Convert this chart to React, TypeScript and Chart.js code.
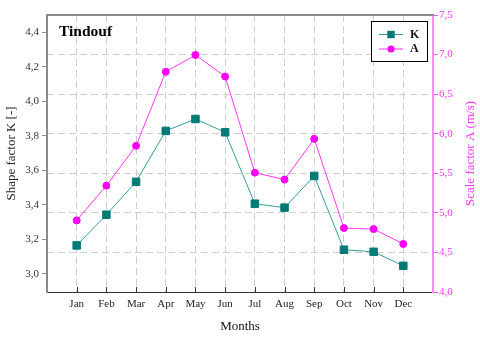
import React, { useEffect, useRef } from 'react';
import { Chart, registerables } from 'chart.js';

Chart.register(...registerables);

const months = ['Jan', 'Feb', 'Mar', 'Apr', 'May', 'Jun', 'Jul', 'Aug', 'Sep', 'Oct', 'Nov', 'Dec'];
const kValues = [3.164, 3.342, 3.533, 3.828, 3.897, 3.82, 3.406, 3.383, 3.567, 3.139, 3.127, 3.046];
const aValues = [4.905, 5.344, 5.847, 6.782, 6.995, 6.722, 5.508, 5.42, 5.935, 4.808, 4.795, 4.607];
const kTicks = [3.0, 3.2, 3.4, 3.6, 3.8, 4.0, 4.2, 4.4];
const aTicks = [4.0, 4.5, 5.0, 5.5, 6.0, 6.5, 7.0, 7.5];
const chartTitle = 'Tindouf';
const leftTitle = 'Shape factor K [-]';
const rightTitle = 'Scale factor A (m/s)';
const xTitle = 'Months';

const FONT = '"Liberation Serif", "Times New Roman", serif';
const TEAL_LINE = '#2f9e9a';
const TEAL_PT = '#007a75';
const MAGENTA = '#ff00ff';
const GRID = '#cdcdcd';

const fmt = (v: number) => v.toFixed(1).replace('.', ',');

const overlayPlugin = {
  id: 'overlay',
  afterDraw(chart: any) {
    const { ctx, chartArea } = chart;
    const { left, right, top, bottom } = chartArea;
    ctx.save();
    // top border
    ctx.strokeStyle = '#8a8a8a';
    ctx.lineWidth = 2;
    ctx.beginPath();
    ctx.moveTo(left - 1, top);
    ctx.lineTo(right + 1, top);
    ctx.stroke();

    // inward x tick marks
    const xs = chart.scales.x;
    ctx.strokeStyle = '#333';
    ctx.lineWidth = 1;
    xs.ticks.forEach((t: any) => {
      const px = Math.round(xs.getPixelForValue(t.value)) + 0.5;
      ctx.beginPath();
      ctx.moveTo(px, bottom);
      ctx.lineTo(px, bottom - 5);
      ctx.stroke();
    });

    // title
    ctx.fillStyle = '#000';
    ctx.font = `bold 15.5px ${FONT}`;
    ctx.textAlign = 'left';
    ctx.textBaseline = 'middle';
    ctx.fillText(chartTitle, left + 12, top + 17);

    // right axis title
    ctx.save();
    ctx.translate(471, (top + bottom) / 2);
    ctx.rotate(-Math.PI / 2);
    ctx.fillStyle = '#ff33ff';
    ctx.font = `13px ${FONT}`;
    ctx.textAlign = 'center';
    ctx.textBaseline = 'middle';
    ctx.fillText(rightTitle, 0, 0);
    ctx.restore();

    // legend
    const bx = 371.5, by = 21.5, bw = 56, bh = 40;
    ctx.fillStyle = '#fff';
    ctx.fillRect(bx, by, bw, bh);
    ctx.strokeStyle = '#000';
    ctx.lineWidth = 1;
    ctx.strokeRect(bx, by, bw, bh);
    chart.data.datasets.forEach((ds: any, i: number) => {
      const y = 34.5 + i * 14.5;
      ctx.strokeStyle = ds.borderColor;
      ctx.lineWidth = 1;
      ctx.beginPath();
      ctx.moveTo(379, y);
      ctx.lineTo(403, y);
      ctx.stroke();
      ctx.fillStyle = ds.pointBackgroundColor;
      ctx.beginPath();
      if (ds.pointStyle === 'rect') {
        ctx.rect(391 - 3.7, y - 3.7, 7.4, 7.4);
      } else {
        ctx.arc(391, y, ds.pointRadius, 0, Math.PI * 2);
      }
      ctx.fill();
      ctx.fillStyle = '#111';
      ctx.font = `bold 12px ${FONT}`;
      ctx.textAlign = 'left';
      ctx.textBaseline = 'middle';
      ctx.fillText(ds.label, 410, y);
    });
    ctx.restore();
  },
};

export default function App() {
  const ref = useRef<HTMLCanvasElement>(null);

  useEffect(() => {
    if (!ref.current) return;
    const chart = new Chart(ref.current, {
      type: 'line',
      data: {
        datasets: [
          {
            label: 'K',
            data: kValues.map((y, i) => ({ x: i + 1, y })),
            yAxisID: 'y',
            borderColor: TEAL_LINE,
            borderWidth: 1,
            pointStyle: 'rect',
            pointRadius: 5.3,
            pointBackgroundColor: TEAL_PT,
            pointBorderColor: TEAL_PT,
            pointBorderWidth: 1,
          } as any,
          {
            label: 'A',
            data: aValues.map((y, i) => ({ x: i + 1, y })),
            yAxisID: 'y2',
            borderColor: '#ff33ff',
            borderWidth: 1,
            pointStyle: 'circle',
            pointRadius: 3.5,
            pointBackgroundColor: MAGENTA,
            pointBorderColor: MAGENTA,
            pointBorderWidth: 1,
          } as any,
        ],
      },
      options: {
        responsive: false,
        animation: false,
        layout: { padding: { top: 15, left: 0, right: 0, bottom: 0 } },
        plugins: {
          legend: { display: false },
          title: { display: false },
          tooltip: { enabled: false },
        },
        scales: {
          x: {
            type: 'linear',
            position: 'bottom',
            min: 0,
            max: 13,
            afterBuildTicks: (s: any) => {
              s.ticks = months.map((_, i) => ({ value: i + 1 }));
            },
            afterFit: (s: any) => {
              s.height = 46;
            },
            ticks: {
              autoSkip: false,
              maxRotation: 0,
              padding: 1,
              color: '#222',
              font: { family: FONT, size: 11 },
              callback: (v: any) => months[Number(v) - 1] ?? '',
            },
            grid: {
              color: GRID,
              lineWidth: 1,
              drawTicks: true,
              tickLength: 5,
              tickColor: 'rgba(0,0,0,0)',
            },
            border: { display: true, color: '#333', width: 1, dash: [7, 4] },
            title: {
              display: true,
              text: xTitle,
              color: '#111',
              font: { family: FONT, size: 13 },
              padding: { top: 0, bottom: 3.5 },
            },
          },
          y: {
            type: 'linear',
            position: 'left',
            min: 2.894,
            max: 4.5,
            afterBuildTicks: (s: any) => {
              s.ticks = kTicks.map((v) => ({ value: v }));
            },
            afterFit: (s: any) => {
              s.width = 47;
            },
            ticks: {
              padding: 3,
              color: '#333',
              font: { family: FONT, size: 11 },
              callback: (v: any) => fmt(Number(v)),
            },
            grid: {
              drawOnChartArea: false,
              drawTicks: true,
              tickLength: 5,
              tickColor: '#8a8a8a',
            },
            border: { display: true, color: '#8a8a8a', width: 2 },
            title: {
              display: true,
              text: leftTitle,
              color: '#222',
              font: { family: FONT, size: 13 },
              padding: { top: 4, bottom: 0 },
            },
          },
          y2: {
            type: 'linear',
            position: 'right',
            min: 4,
            max: 7.5,
            afterBuildTicks: (s: any) => {
              s.ticks = aTicks.map((v) => ({ value: v }));
            },
            afterFit: (s: any) => {
              s.width = 47;
            },
            ticks: {
              padding: 1,
              color: '#ff33ff',
              font: { family: FONT, size: 11 },
              callback: (v: any) => fmt(Number(v)),
            },
            grid: {
              drawOnChartArea: true,
              color: (c: any) =>
                c.tick && (c.tick.value === 4 || c.tick.value === 7.5) ? 'rgba(0,0,0,0)' : GRID,
              lineWidth: 1,
              drawTicks: true,
              tickLength: 5,
              tickColor: '#ff55ff',
            },
            border: { display: true, color: '#ff88ff', width: 2, dash: [7, 4] },
            title: { display: false },
          },
        },
      } as any,
      plugins: [overlayPlugin],
    });
    return () => chart.destroy();
  }, []);

  return (
    <div style={{ position: 'fixed', left: 0, top: 0, width: 480, height: 338, background: '#fff' }}>
      <canvas ref={ref} width={480} height={338} />
    </div>
  );
}
